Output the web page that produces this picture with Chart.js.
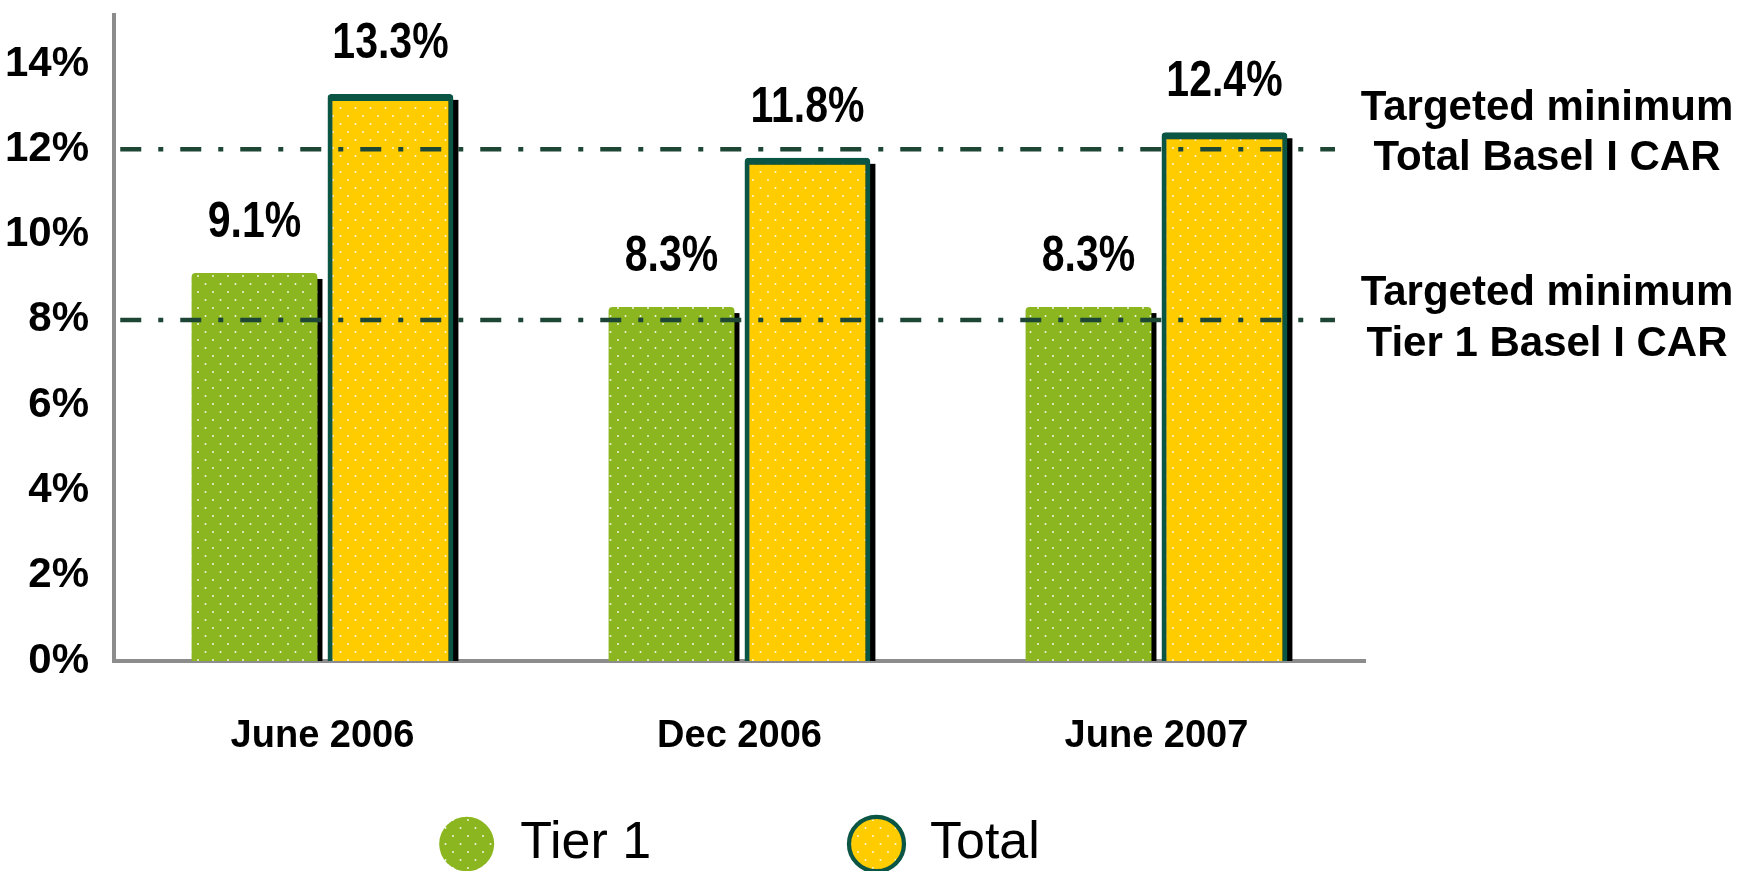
<!DOCTYPE html>
<html><head><meta charset="utf-8">
<script src="https://cdn.jsdelivr.net/npm/chart.js@4.4.1/dist/chart.umd.min.js"></script>
<style>html,body{margin:0;padding:0;background:#fff;overflow:hidden;} canvas{display:block;}</style>
</head><body>
<canvas id="c" width="1757" height="871"></canvas>
<script>
// ---- data ----
const categories = ['June 2006', 'Dec 2006', 'June 2007'];
const seriesNames = ['Tier 1', 'Total'];
const tier1Values = [9.1, 8.3, 8.3];
const totalValues = [13.3, 11.8, 12.4];
const yTickValues = [0, 2, 4, 6, 8, 10, 12, 14];
const targetValues = [12, 8];
const targetLabels = [['Targeted minimum', 'Total Basel I CAR'], ['Targeted minimum', 'Tier 1 Basel I CAR']];

// ---- styles / layout ----
const SANS = "'Liberation Sans',Arial,sans-serif";
const GREEN = '#8BB620', YELLOW = '#FFCC00', TEAL = '#0B5545', DASH = '#1E4634', AXIS = '#8c8c8c';
const targetSpan = [0.005, 0.976];          // fraction of plot width
const targetTextOffsets = [[-41, 9], [-26, 25]];
const targetTextX = 1547;

function dotPattern(color) {
  const t = document.createElement('canvas');
  t.width = 15; t.height = 16;
  const g = t.getContext('2d');
  g.fillStyle = color; g.fillRect(0, 0, 15, 16);
  g.fillStyle = 'rgba(255,255,255,0.85)';
  g.beginPath(); g.arc(3, 4, 1, 0, Math.PI * 2); g.fill();
  g.beginPath(); g.arc(10.5, 12, 1, 0, Math.PI * 2); g.fill();
  return g.createPattern(t, 'repeat');
}

function barMetas(chart) {
  return chart.data.datasets.map((d, i) => chart.getDatasetMeta(i)).filter(m => m.type === 'bar');
}

const barShadow = {
  id: 'barShadow',
  beforeDatasetsDraw(chart) {
    const ctx = chart.ctx;
    ctx.save();
    ctx.fillStyle = '#000';
    barMetas(chart).forEach(meta => {
      meta.data.forEach(el => {
        const p = el.getProps(['x', 'y', 'width', 'base'], true);
        ctx.fillRect(p.x - p.width / 2 + 5, p.y + 6, p.width, p.base - p.y - 6);
      });
    });
    ctx.restore();
  }
};

const targetLines = {
  id: 'targetLines',
  afterDatasetsDraw(chart) {
    const {ctx, chartArea: a, scales: {y}} = chart;
    const w = a.right - a.left;
    ctx.save();
    ctx.strokeStyle = DASH;
    ctx.lineWidth = 4.5;
    ctx.setLineDash([21, 17, 5, 17]);
    targetValues.forEach(v => {
      const py = y.getPixelForValue(v);
      ctx.beginPath();
      ctx.moveTo(a.left + targetSpan[0] * w, py);
      ctx.lineTo(a.left + targetSpan[1] * w, py);
      ctx.stroke();
    });
    ctx.restore();
  }
};

const valueLabels = {
  id: 'valueLabels',
  afterDatasetsDraw(chart) {
    const ctx = chart.ctx;
    ctx.save();
    ctx.font = 'bold 50px ' + SANS;
    ctx.fillStyle = '#000';
    ctx.textAlign = 'center';
    ctx.textBaseline = 'middle';
    barMetas(chart).forEach(meta => {
      const ds = chart.data.datasets[meta.index];
      meta.data.forEach((el, j) => {
        ctx.save();
        ctx.translate(el.x, el.y - 50);
        ctx.scale(0.82, 1);
        ctx.fillText(ds.data[j].toFixed(1) + '%', 0, 0);
        ctx.restore();
      });
    });
    ctx.restore();
  }
};

const targetText = {
  id: 'targetText',
  afterDraw(chart) {
    const ctx = chart.ctx;
    const y = chart.scales.y;
    ctx.save();
    ctx.font = 'bold 42px ' + SANS;
    ctx.fillStyle = '#000';
    ctx.textAlign = 'center';
    ctx.textBaseline = 'middle';
    targetValues.forEach((v, k) => {
      const py = y.getPixelForValue(v);
      targetLabels[k].forEach((line, n) => {
        ctx.fillText(line, targetTextX, py + targetTextOffsets[k][n]);
      });
    });
    ctx.restore();
  }
};

function build() {
  const datasets = [
    {
      label: seriesNames[0], data: tier1Values,
      backgroundColor: dotPattern(GREEN), borderWidth: 0,
      borderRadius: {topLeft: 4, topRight: 4},
      categoryPercentage: 0.652, barPercentage: 0.926
    },
    {
      label: seriesNames[1], data: totalValues,
      backgroundColor: dotPattern(YELLOW), borderColor: TEAL,
      borderWidth: {top: 7, left: 5, right: 5, bottom: 0},
      borderRadius: {topLeft: 4, topRight: 4},
      categoryPercentage: 0.652, barPercentage: 0.926
    }
  ];

  new Chart(document.getElementById('c'), {
    type: 'bar',
    data: {labels: categories, datasets: datasets},
    plugins: [barShadow, targetLines, valueLabels, targetText],
    options: {
      responsive: false,
      animation: false,
      devicePixelRatio: 1,
      events: [],
      layout: {padding: {top: 15, right: 392, left: 0, bottom: -9}},
      scales: {
        x: {
          type: 'category', position: 'bottom', z: 1,
          grid: {display: false, drawTicks: false},
          border: {display: true, color: AXIS, width: 4},
          ticks: {color: '#000', font: {family: SANS, size: 38, weight: 'bold'}, padding: 53, maxRotation: 0},
          afterFit(s) { s.height = 147; s.paddingLeft = 0; s.paddingRight = 0; }
        },
        y: {
          min: 0, max: 15.15,
          grid: {display: false, drawTicks: false},
          border: {display: true, color: AXIS, width: 4},
          afterBuildTicks(s) { s.ticks = yTickValues.map(v => ({value: v})); },
          ticks: {color: '#000', font: {family: SANS, size: 42, weight: 'bold'}, padding: 25,
                  callback: v => v + '%'},
          afterFit(s) { s.width = 114; s.paddingTop = 0; s.paddingBottom = 0; }
        }
      },
      plugins: {
        tooltip: {enabled: false},
        legend: {
          position: 'bottom', fullSize: false, align: 'center',
          labels: {
            usePointStyle: true, pointStyle: 'circle', pointStyleWidth: 55, boxHeight: 38.5,
            padding: 10, color: '#000', font: {family: SANS, size: 52},
            generateLabels(chart) {
              const items = Chart.defaults.plugins.legend.labels.generateLabels(chart);
              items[0].text = items[0].text + '\u00a0'.repeat(13);
              return items;
            }
          }
        }
      }
    }
  });
}

const fontLoads = ['bold 50px "Liberation Sans"', '52px "Liberation Sans"']
  .map(f => document.fonts.load(f).catch(() => null));
Promise.all(fontLoads).then(build, build);
</script>
</body></html>
